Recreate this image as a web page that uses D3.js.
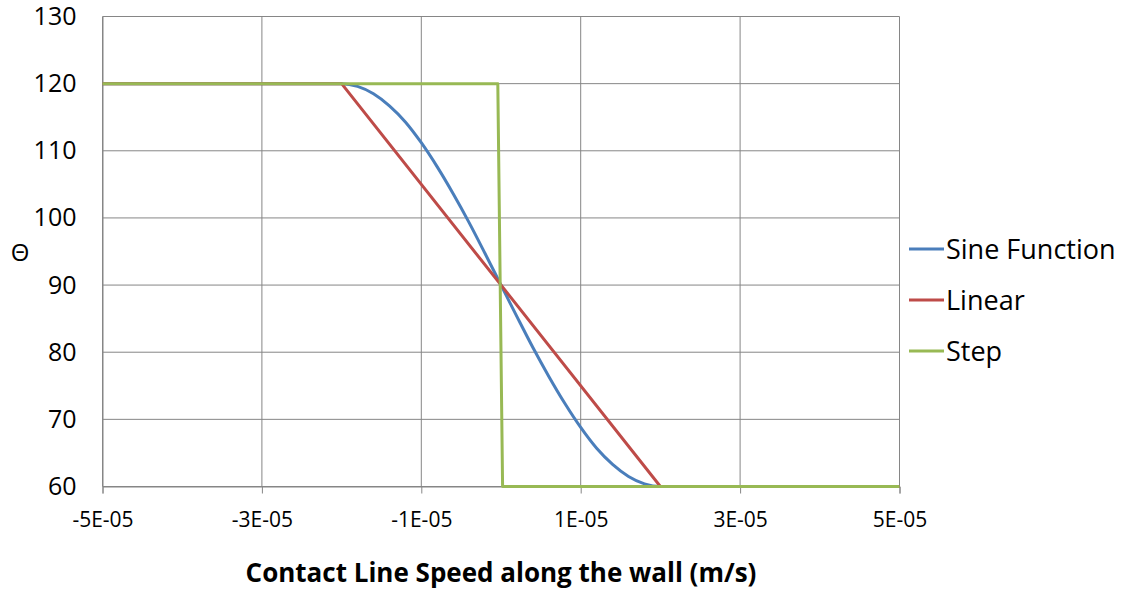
<!DOCTYPE html>
<html>
<head>
<meta charset="utf-8">
<script src="https://cdn.jsdelivr.net/npm/d3@7"></script>
<style>
  html, body { margin: 0; padding: 0; background: #fff; }
  svg { display: block; font-family: "Open Sans", "Liberation Sans", sans-serif; }
</style>
</head>
<body>
<svg id="chart" width="1122" height="590"></svg>
<script>
// Contact angle vs. contact line speed for three transition models
const xTicks = [-5e-5, -3e-5, -1e-5, 1e-5, 3e-5, 5e-5];
const xTickLabels = ["-5E-05", "-3E-05", "-1E-05", "1E-05", "3E-05", "5E-05"];
const yTicks = [60, 70, 80, 90, 100, 110, 120, 130];

const sineX = [-5e-5, -2e-5, -1.8e-5, -1.6e-5, -1.4e-5, -1.2e-5, -1e-5, -0.8e-5, -0.6e-5, -0.4e-5, -0.2e-5, 0,
               0.2e-5, 0.4e-5, 0.6e-5, 0.8e-5, 1e-5, 1.2e-5, 1.4e-5, 1.6e-5, 1.8e-5, 2e-5, 5e-5];
const sineY = [120, 120, 119.6, 118.5, 116.7, 114.3, 111.2, 107.6, 103.6, 99.3, 94.7, 90,
               85.3, 80.7, 76.4, 72.4, 68.8, 65.7, 63.3, 61.5, 60.4, 60, 60];

const linearX = [-5e-5, -2e-5, 2e-5, 5e-5];
const linearY = [120, 120, 60, 60];

const stepX = [-5e-5, -4e-7, 2e-7, 5e-5];
const stepY = [120, 120, 60, 60];

const seriesNames = ["Sine Function", "Linear", "Step"];
const seriesColors = ["#4A7EBB", "#BE4B48", "#98B954"];

const svg = d3.select("#chart");
const W = 1122, H = 590;
const margin = { left: 102.5, top: 16.5, right: W - 899.5, bottom: H - 486.5 };

const x = d3.scaleLinear().domain([-5e-5, 5e-5]).range([margin.left, W - margin.right]);
const y = d3.scaleLinear().domain([60, 130]).range([H - margin.bottom, margin.top]);

const gridColor = "#868686";

// horizontal gridlines
svg.append("g")
  .selectAll("line")
  .data(yTicks)
  .join("line")
  .attr("x1", x(-5e-5)).attr("x2", x(5e-5))
  .attr("y1", d => y(d)).attr("y2", d => y(d))
  .attr("stroke", gridColor).attr("stroke-width", 1);

// vertical gridlines
svg.append("g")
  .selectAll("line")
  .data(xTicks)
  .join("line")
  .attr("x1", d => x(d)).attr("x2", d => x(d))
  .attr("y1", y(130)).attr("y2", y(60))
  .attr("stroke", gridColor).attr("stroke-width", 1);

// x axis with short tick marks below the plot
const xAxis = d3.axisBottom(x)
  .tickValues(xTicks)
  .tickFormat((d, i) => xTickLabels[i])
  .tickSize(7);
const gx = svg.append("g")
  .attr("transform", `translate(0,${y(60)})`)
  .call(xAxis);
gx.select(".domain").attr("stroke", gridColor);
gx.selectAll(".tick line").attr("stroke", gridColor);
gx.selectAll("text")
  .attr("y", 40.5).attr("dy", null)
  .attr("font-size", 21).attr("fill", "#000")
  .attr("font-family", "'Open Sans', sans-serif");

// y axis labels, no tick marks
const yAxis = d3.axisLeft(y).tickValues(yTicks).tickSize(0).tickPadding(26);
const gy = svg.append("g")
  .attr("transform", `translate(${x(-5e-5)},0)`)
  .call(yAxis);
gy.select(".domain").attr("stroke", gridColor);
gy.selectAll("text")
  .attr("font-size", 25).attr("fill", "#000")
  .attr("font-family", "'Open Sans', sans-serif");

// series
const series = [
  { name: seriesNames[0], xs: sineX, ys: sineY, color: seriesColors[0], curve: d3.curveMonotoneX },
  { name: seriesNames[1], xs: linearX, ys: linearY, color: seriesColors[1], curve: d3.curveLinear },
  { name: seriesNames[2], xs: stepX, ys: stepY, color: seriesColors[2], curve: d3.curveLinear }
];
svg.append("g")
  .selectAll("path")
  .data(series)
  .join("path")
  .attr("d", s => d3.line().curve(s.curve).x(d => x(d[0])).y(d => y(d[1]))(s.xs.map((v, i) => [v, s.ys[i]])))
  .attr("fill", "none")
  .attr("stroke", s => s.color)
  .attr("stroke-width", 3)
  .attr("stroke-linejoin", "round");

// axis titles
svg.append("text")
  .attr("x", 20).attr("y", 253)
  .attr("dy", "0.35em")
  .attr("text-anchor", "middle")
  .attr("font-size", 24)
  .attr("fill", "#000")
  .text("Θ");

svg.append("text")
  .attr("x", 501).attr("y", 582)
  .attr("text-anchor", "middle")
  .attr("font-size", 26)
  .attr("font-weight", "bold")
  .attr("fill", "#000")
  .text("Contact Line Speed along the wall (m/s)");

// legend
const legend = svg.append("g");
const legendY = [249, 300, 351];
series.forEach((s, i) => {
  legend.append("line")
    .attr("x1", 909).attr("x2", 944)
    .attr("y1", legendY[i]).attr("y2", legendY[i])
    .attr("stroke", s.color).attr("stroke-width", 3);
  legend.append("text")
    .attr("x", 946).attr("y", legendY[i])
    .attr("dy", "0.36em")
    .attr("font-size", 27)
    .attr("fill", "#000")
    .text(s.name);
});
</script>
</body>
</html>
